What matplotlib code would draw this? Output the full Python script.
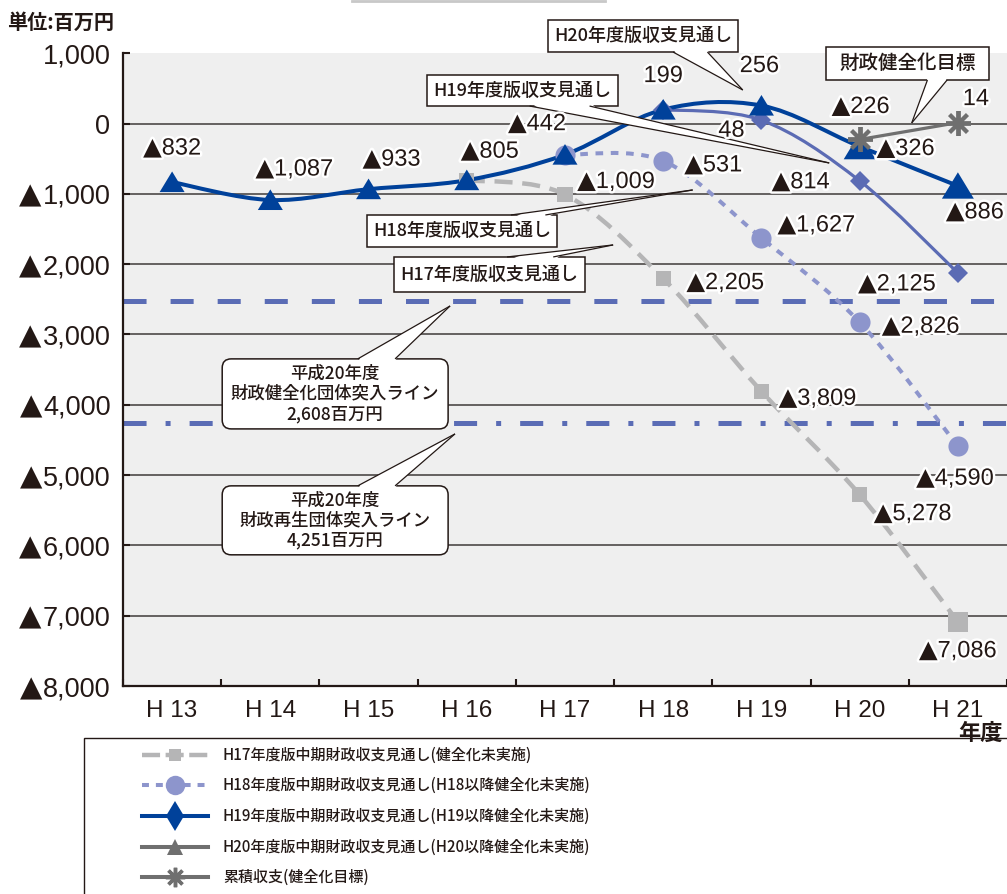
import numpy as np
import matplotlib
matplotlib.use('Agg')
from matplotlib import pyplot as plt
from matplotlib.path import Path
from matplotlib.patches import PathPatch, Polygon, FancyBboxPatch, Rectangle
from matplotlib.lines import Line2D
from matplotlib.font_manager import FontProperties
import matplotlib.patheffects as pe

plt.rcParams['font.family'] = ['Liberation Sans', 'Noto Sans CJK JP', 'DejaVu Sans']
plt.rcParams['lines.scale_dashes'] = False

# ---- データ ----
years = ['H 13', 'H 14', 'H 15', 'H 16', 'H 17', 'H 18', 'H 19', 'H 20', 'H 21']
ytick_vals = [1000, 0, -1000, -2000, -3000, -4000, -5000, -6000, -7000, -8000]
ytick_labels = ['1,000', '0', '▲1,000', '▲2,000', '▲3,000', '▲4,000',
                '▲5,000', '▲6,000', '▲7,000', '▲8,000']

h17_x = [3, 4, 5, 6, 7, 8]
h17_y = [-805, -1009, -2205, -3809, -5278, -7086]
h18_x = [4, 5, 6, 7, 8]
h18_y = [-442, -531, -1627, -2826, -4590]
h19_x = [5, 6, 7, 8]
h19_y = [199, 48, -814, -2125]
h20_x = [0, 1, 2, 3, 4, 5, 6, 7, 8]
h20_y = [-832, -1087, -933, -805, -442, 199, 256, -326, -886]
goal_x = [7, 8]
goal_y = [-226, 14]

kenzen_y = -2520   # 財政健全化団体突入ライン (図中の位置)
saisei_y = -4265   # 財政再生団体突入ライン

legend_labels = ['H17年度版中期財政収支見通し(健全化未実施)',
                 'H18年度版中期財政収支見通し(H18以降健全化未実施)',
                 'H19年度版中期財政収支見通し(H19以降健全化未実施)',
                 'H20年度版中期財政収支見通し(H20以降健全化未実施)',
                 '累積収支(健全化目標)']

# ---- 色 ----
DARK = '#231815'
NAVY = '#00419a'
PURPLE = '#5b6bb4'
LILAC = '#8d95cc'
LGRAY = '#b5b5b6'
DGRAY = '#6f6f6f'
GRID = '#3e3a39'

jp = ['Noto Sans CJK JP', 'DejaVu Sans']
num_font = ['Liberation Sans', 'DejaVu Sans']
tri_font = ['DejaVu Sans']

W, H = 1007, 894
fig = plt.figure(figsize=(W / 100, H / 100), dpi=100)
ax_l, ax_r, ax_t, ax_b = 123, 1007, 53.3, 686
ax = fig.add_axes([ax_l / W, 1 - ax_b / H, (ax_r - ax_l) / W, (ax_b - ax_t) / H])
ax.set_facecolor('#efefef')
ax.set_xlim(-0.5, 8.5)
ax.set_ylim(-8000, 1000)
xpp = 9 / (ax_r - ax_l)          # x単位 / px
ypp = 9000 / (ax_b - ax_t)       # y単位 / px

for s in ['top', 'right']:
    ax.spines[s].set_visible(False)
for s in ['left', 'bottom']:
    ax.spines[s].set_color(DARK)
    ax.spines[s].set_linewidth(1.6)

ax.hlines(ytick_vals[1:-1], -0.5, 8.5, color=GRID, lw=1.1, zorder=1)

# ▲は別の文字として左に付ける
ax.set_yticks(ytick_vals)
ax.set_yticklabels([t.lstrip('▲') for t in ytick_labels], family=num_font, fontsize=19.5)
ax.tick_params(axis='y', direction='in', length=5, width=1.5, color=DARK,
               pad=9, labelcolor=DARK)
ax.set_xticks(range(len(years)))
ax.set_xticklabels(years)
ax.tick_params(axis='x', which='major', length=0, pad=10, labelsize=17.5, labelcolor=DARK)
ax.set_xticks(np.arange(-0.5, 9, 1), minor=True)
ax.tick_params(axis='x', which='minor', direction='in', length=5, width=1.5, color=DARK)


def smooth_path(xs, ys):
    # Excel風の平滑線 (Catmull-Rom -> Bezier)
    pts = np.column_stack([xs, ys]).astype(float)
    n = len(pts)
    verts = [pts[0]]
    codes = [Path.MOVETO]
    for i in range(n - 1):
        p0 = pts[max(i - 1, 0)]
        p1, p2 = pts[i], pts[i + 1]
        p3 = pts[min(i + 2, n - 1)]
        verts += [p1 + (p2 - p0) / 6, p2 - (p3 - p1) / 6, p2]
        codes += [Path.CURVE4] * 3
    return Path(verts, codes)


def add_line(xs, ys, color, lw, ls, z):
    pp = PathPatch(smooth_path(xs, ys), fill=False, ec=color, lw=lw, ls=ls,
                   capstyle='butt', zorder=z)
    ax.add_patch(pp)


# 突入ライン
ax.axhline(kenzen_y, color='#5a6cb5', lw=3.6, ls=(0, (16.6, 17.3)), zorder=2)
ax.axhline(saisei_y, color='#5a6cb5', lw=3.6, ls=(0, (16.6, 13.7, 3.6, 13.7)), zorder=2)

add_line(h17_x, h17_y, LGRAY, 3.2, (0, (13, 7)), 3)
add_line(h18_x, h18_y, LILAC, 2.9, (0, (5.5, 5.5)), 3.1)
add_line(h19_x, h19_y, PURPLE, 2.3, '-', 3.2)
add_line(h20_x, h20_y, NAVY, 2.9, '-', 3.3)
ax.plot(goal_x, goal_y, color=DGRAY, lw=2.3, zorder=3.4)

tri = [(-1, -0.8), (1, -0.8), (0, 0.85)]
sq_size = [11, 11, 11, 11, 11, 14.5]
tri_size = [18, 18, 18, 18, 18, 18, 18, 23, 23]
ax.scatter(h17_x, h17_y, s=np.array(sq_size) ** 2, marker='s', color=LGRAY, lw=0, zorder=4)
ax.plot(h18_x, h18_y, ls='none', marker='o', ms=14.5, mew=0, color=LILAC, zorder=4.1)
ax.plot(h19_x, h19_y, ls='none', marker='D', ms=10.5, mew=0, color=PURPLE, zorder=4.2)
ax.scatter(h20_x, h20_y, s=np.array(tri_size) ** 2, marker=tri, color=NAVY, lw=0, zorder=4.3)
ax.plot(goal_x, goal_y, ls='none', marker=(8, 2, 0), ms=18, mew=2.8, color=DGRAY, zorder=4.4)

# ---- データラベル (オフセットはpx) ----
stroke = [pe.withStroke(linewidth=3.5, foreground='white')]
pending = []


def add_labels(xs, ys, offs):
    for x, y, (dx, dy) in zip(xs, ys, offs):
        base = dy - 8.5
        t = ax.annotate('{:,}'.format(abs(y)), (x, y), xytext=(dx, base),
                        textcoords='offset pixels', ha='left', va='baseline',
                        fontsize=17, family=num_font, color=DARK,
                        path_effects=stroke, zorder=8, annotation_clip=False)
        m = None
        if y < 0:
            m = ax.annotate('▲', (x, y), xytext=(dx, base),
                            textcoords='offset pixels', ha='right', va='baseline',
                            fontsize=17.5, family=tri_font, color=DARK,
                            path_effects=stroke, zorder=8, annotation_clip=False)
        pending.append((t, m, dx, base))


add_labels(h20_x, h20_y, [(0, 36), (24, 33), (23, 32), (23, 31), (-28, 33),
                          (0, 36), (-2, 42), (46, 0), (17, -24)])
add_labels(h19_x[1:], h19_y[1:], [(-30, -8), (-59, 1), (-61, -9)])
add_labels(h18_x[1:], h18_y[1:], [(50, -2), (55, 15), (61, -2), (-3, -30)])
add_labels(h17_x[1:], h17_y[1:], [(51, 15), (62, -2), (56, -5), (53, -17), (0, -27)])
add_labels(goal_x, goal_y, [(1, 35), (18, 26)])

# ---- 吹き出し ----
asp = ypp / xpp


def callout(text, box, base, tip, fs=13, rounded=False):
    x0, x1, y0, y1 = box
    if rounded:
        bs = 'round,pad=0,rounding_size=%f' % (9 * xpp)
    else:
        bs = 'square,pad=0'
    bx = FancyBboxPatch((x0, y0), x1 - x0, y1 - y0, boxstyle=bs, mutation_aspect=asp,
                        fc='white', ec=DARK, lw=1.1, zorder=6, clip_on=False)
    ax.add_patch(bx)
    by = base[0][1]
    into = 1 if abs(by - y0) < abs(by - y1) else -1
    pts = []
    for (bxp, byp) in base:
        ext = -into * 1.5 * ypp
        f = ext / (tip[1] - byp)
        pts.append((bxp + (tip[0] - bxp) * f, byp + ext))
    inner = [(b[0], b[1] + into * 4 * ypp) for b in base]
    cover = Polygon([inner[0], pts[0], tip, pts[1], inner[1]], closed=True,
                    fc='white', ec='none', zorder=6.1, clip_on=False)
    ax.add_patch(cover)
    for b in base:
        ax.plot([b[0], tip[0]], [b[1], tip[1]], color=DARK, lw=0.9,
                zorder=6.2, clip_on=False, solid_capstyle='butt')
    ax.text((x0 + x1) / 2, (y0 + y1) / 2, text, ha='center', va='center',
            fontsize=fs, family=jp, fontweight='medium', color=DARK, zorder=7,
            linespacing=1.15)


callout('H20年度版収支見通し', (3.83, 5.76, 1018, 1473), ((5.10, 1018), (5.45, 1018)), (5.81, 478))
callout('財政健全化目標', (6.66, 8.32, 620, 1089), ((7.69, 620), (7.89, 620)), (7.53, 9), fs=14)
callout('H19年度版収支見通し', (2.59, 4.54, 250, 691), ((3.64, 250), (4.25, 250)), (6.69, -560))
callout('H18年度版収支見通し', (1.98, 3.92, -1755, -1300), ((3.45, -1300), (3.80, -1300)), (5.30, -944))
callout('H17年度版収支見通し', (2.26, 4.20, -2395, -1897), ((3.41, -1897), (3.88, -1897)), (4.49, -1726))
callout('平成20年度\n財政健全化団体突入ライン\n2,608百万円', (0.51, 2.81, -4343, -3347),
        ((1.89, -3347), (2.27, -3347)), (2.83, -2594), fs=12.5, rounded=True)
callout('平成20年度\n財政再生団体突入ライン\n4,251百万円', (0.51, 2.81, -6134, -5153),
        ((1.89, -5153), (2.27, -5153)), (2.88, -4414), fs=12.5, rounded=True)

# ---- 文字 ----
fig.text(7 / W, 1 - 22 / H, '単位:百万円', fontsize=14.5, family=jp, fontweight='bold',
         color=DARK, ha='left', va='center')
fig.text(980 / W, 1 - 733 / H, '年度', fontsize=16, family=jp, fontweight='bold',
         color=DARK, ha='center', va='center')
fig.add_artist(Line2D([352 / W, 605 / W], [1 - 1 / H, 1 - 1 / H], color='#c8c8c8', lw=2))

# ---- 凡例 ----
fig.add_artist(Rectangle((84 / W, -0.05), 1.0, 0.05 + 1 - 738 / H, fill=False,
                         ec=DARK, lw=1.0, transform=fig.transFigure))
leg_style = [
    dict(color=LGRAY, lw=3.2, ls=(0, (13, 4)), marker='s', ms=9),
    dict(color=LILAC, lw=2.9, ls=(0, (5, 5)), marker='o', ms=14),
    dict(color=NAVY, lw=2.9, ls='-', marker='d', ms=15),
    dict(color=DGRAY, lw=2.9, ls='-', marker='^', ms=12),
    dict(color=DGRAY, lw=2.9, ls='-', marker=(8, 2, 0), ms=14, mew=2.5),
]
row_y = [755, 785, 816, 847, 877]
for lab, st, yy in zip(legend_labels, leg_style, row_y):
    fy = 1 - yy / H
    ln = Line2D([142 / W, 175 / W, 208 / W], [fy, fy, fy], markevery=[1],
                markeredgewidth=st.get('mew', 0), mec=st['color'],
                **{k: v for k, v in st.items() if k != 'mew'})
    fig.add_artist(ln)
    fig.text(223 / W, fy, lab, fontsize=10.8, family=jp, fontweight='medium',
             color=DARK, ha='left', va='center')

# ---- ▲付きラベルの位置合わせ ----
fig.canvas.draw()
r = fig.canvas.get_renderer()
for t, m, dx, base in pending:
    wn = t.get_window_extent(r).width
    wt = m.get_window_extent(r).width if m is not None else 0
    left = dx - (wn + wt) / 2 + wt
    t.xyann = (left, base)
    if m is not None:
        m.xyann = (left, base)

tick_prop = FontProperties(family=num_font, size=19.5)
lp_d = r.get_text_width_height_descent('lp', tick_prop, ismath=False)[2]
for lbl, full in zip(ax.get_yticklabels(), ytick_labels):
    if not full.startswith('▲'):
        continue
    bb = lbl.get_window_extent(r)
    fig.text((bb.x0 - 1) / W, (bb.y0 + lp_d) / H, '▲', ha='right', va='baseline',
             fontsize=21, family=tri_font, color=DARK)

fig.savefig('out.png', dpi=100)
